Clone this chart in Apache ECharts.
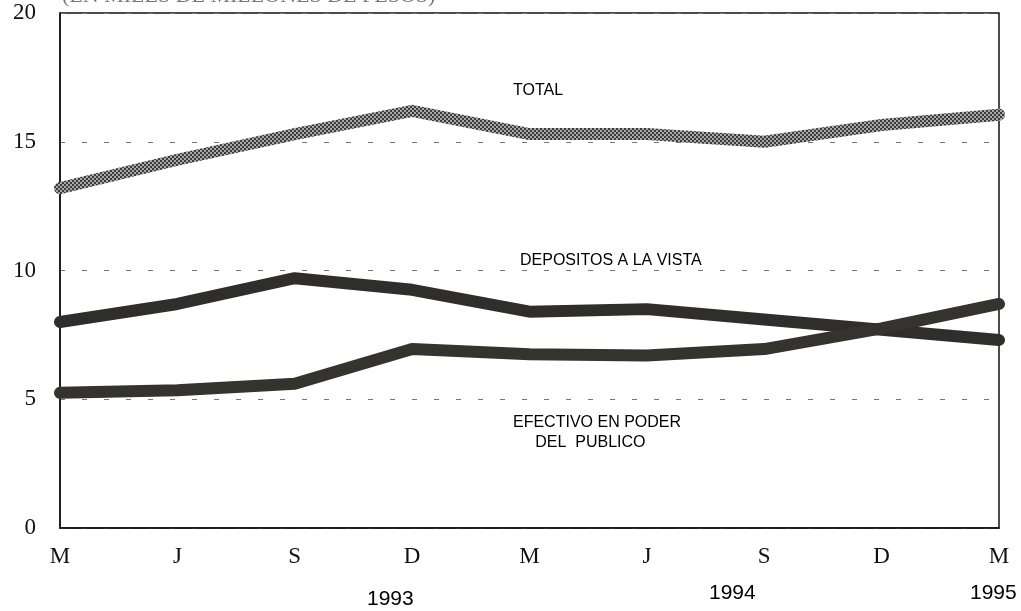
<!DOCTYPE html>
<html>
<head>
<meta charset="utf-8">
<script src="https://cdn.jsdelivr.net/npm/echarts@6/dist/echarts.min.js"></script>
<style>
  html, body { margin: 0; padding: 0; background: #fff; }
  #chart { width: 1021px; height: 611px; }
</style>
</head>
<body>
<div id="chart"></div>
<script>
// trimestres mar-93 .. mar-95
const categories = ['M', 'J', 'S', 'D', 'M', 'J', 'S', 'D', 'M']
const total = [13.2, 14.3, 15.3, 16.2, 15.3, 15.3, 15.0, 15.65, 16.05]
const depositos = [8.0, 8.7, 9.7, 9.25, 8.4, 8.5, 8.1, 7.7, 7.3]
const efectivo = [5.25, 5.35, 5.6, 6.95, 6.75, 6.7, 6.95, 7.75, 8.7]
const yearLabels = ['1993', '1994', '1995']

// trama punteada para la serie TOTAL
function makePattern() {
  const c = document.createElement('canvas')
  c.width = 4
  c.height = 4
  const ctx = c.getContext('2d')
  ctx.fillStyle = '#a8a8a8'
  ctx.fillRect(0, 0, 4, 4)
  ctx.fillStyle = '#3c3c3c'
  ctx.fillRect(0, 0, 2, 2)
  ctx.fillRect(2, 2, 2, 2)
  return c
}

const chart = echarts.init(document.getElementById('chart'))
const serif = '"Liberation Serif", "DejaVu Serif", serif'
const sans = '"Liberation Sans Narrow", "Liberation Sans", Arial, sans-serif'

const lineSeries = (name, data, color, width) => ({
  name: name,
  type: 'line',
  data: data,
  symbol: 'none',
  smooth: false,
  lineStyle: { color: color, width: width, cap: 'round', join: 'round' },
  z: 3
})

chart.setOption({
  animation: false,
  backgroundColor: '#fff',
  grid: {
    left: 60,
    right: 22,
    top: 13,
    bottom: 83,
    show: true,
    borderColor: '#111',
    borderWidth: 1.5
  },
  xAxis: {
    type: 'category',
    boundaryGap: false,
    data: categories,
    axisLine: { lineStyle: { color: '#111', width: 1.5 } },
    axisTick: { show: false },
    axisLabel: { color: '#111', fontFamily: serif, fontSize: 23, margin: 17 },
    splitLine: { show: false }
  },
  yAxis: {
    type: 'value',
    min: 0,
    max: 20,
    interval: 5,
    axisLine: { show: true, lineStyle: { color: '#111', width: 1.5 } },
    axisTick: { show: false },
    axisLabel: { color: '#111', fontFamily: serif, fontSize: 23, margin: 24 },
    splitLine: { lineStyle: { color: '#777', width: 1, type: [5, 17] } }
  },
  series: [
    lineSeries('TOTAL', total, { image: makePattern(), repeat: 'repeat' }, 12),
    lineSeries('DEPOSITOS A LA VISTA', depositos, '#2f2e2a', 12),
    lineSeries('EFECTIVO EN PODER DEL PUBLICO', efectivo, '#34332e', 12)
  ],
  graphic: [
    {
      type: 'text', left: 62, top: -15,
      style: { text: '(EN MILES DE MILLONES DE PESOS)', fill: '#777', font: '22px ' + serif }
    },
    {
      type: 'text', left: 513, top: 83,
      style: { text: 'TOTAL', fill: '#000', font: '16px ' + sans }
    },
    {
      type: 'text', left: 520, top: 253,
      style: { text: 'DEPOSITOS A LA VISTA', fill: '#000', font: '16px ' + sans }
    },
    {
      type: 'text', left: 513, top: 413,
      style: {
        text: 'EFECTIVO EN PODER\n     DEL  PUBLICO',
        fill: '#000',
        font: '16px ' + sans,
        lineHeight: 20
      }
    },
    {
      type: 'text', left: 367, top: 589,
      style: { text: yearLabels[0], fill: '#000', font: '21px ' + sans }
    },
    {
      type: 'text', left: 709, top: 583,
      style: { text: yearLabels[1], fill: '#000', font: '21px ' + sans }
    },
    {
      type: 'text', left: 970, top: 583,
      style: { text: yearLabels[2], fill: '#000', font: '21px ' + sans }
    }
  ]
})
</script>
</body>
</html>
